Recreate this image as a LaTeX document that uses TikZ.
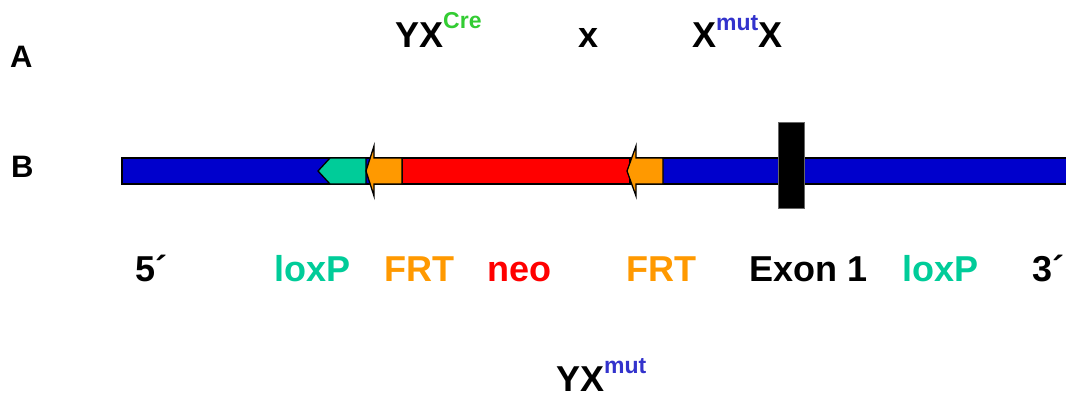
\documentclass[tikz,border=0pt]{standalone}
\usepackage{fontspec}
\setmainfont{Liberation Sans}
\definecolor{barblue}{RGB}{0,0,204}
\definecolor{loxgreen}{RGB}{0,204,153}
\definecolor{frtorange}{RGB}{255,153,0}
\definecolor{neored}{RGB}{255,0,0}
\definecolor{cregreen}{RGB}{51,204,51}
\definecolor{mutblue}{RGB}{51,51,204}
\newcommand{\raisedtag}[2]{\raisebox{#1}{\fontsize{23}{23}\selectfont #2}}
\begin{document}
\begin{tikzpicture}[x=1pt,y=-1pt,
  lbl/.style={anchor=base west,inner sep=0pt,font=\fontsize{36}{36}\selectfont\bfseries},
  panel/.style={anchor=base west,inner sep=0pt,font=\fontsize{31}{31}\selectfont\bfseries},
  part/.style={draw=black,line width=1.3pt,line join=miter}]
\useasboundingbox (0,0) rectangle (1066,392);

% panel letters
\node[panel] (pA) at (10,67) {A};
\node[panel] (pB) at (11,177) {B};

% cross
\node[lbl] (cre) at (395,47) {YX\raisedtag{19pt}{\color{cregreen}Cre}};
\node[lbl] (cross) at (578,47) {x};
\node[lbl] (mutx) at (692,47) {X\raisedtag{17pt}{\color{mutblue}mut}X};

% offspring
\node[lbl] (off) at (556,391) {YX\raisedtag{18pt}{\color{mutblue}mut}};

% allele
\draw[part,fill=barblue] (122,158) rectangle (1080,184);
\draw[part,fill=neored] (402,158) rectangle (630,184);
% loxP
\draw[part,fill=loxgreen] (318,171) -- (330,158) -- (366,158) -- (366,184) -- (330,184) -- cycle;
% FRT left
\draw[part,fill=frtorange] (366,171) -- (374,146) -- (374,158) -- (402,158) -- (402,184) -- (374,184) -- (374,196) -- cycle;
% FRT right
\draw[part,fill=frtorange] (627,171) -- (636,146) -- (636,158) -- (663,158) -- (663,184) -- (636,184) -- (636,196) -- cycle;
% exon 1
\draw[draw=black!60,line width=0.6pt,fill=black] (778,122) rectangle (804,208);

% labels
\node[lbl] (five) at (135,281) {5´};
\node[lbl,text=loxgreen] (lox1) at (274,281) {loxP};
\node[lbl,text=frtorange] (frt1) at (384,281) {FRT};
\node[lbl,text=neored] (neo) at (487,281) {neo};
\node[lbl,text=frtorange] (frt2) at (626,281) {FRT};
\node[lbl] (exon) at (749,281) {Exon 1};
\node[lbl,text=loxgreen] (lox2) at (902,281) {loxP};
\node[lbl] (three) at (1032,281) {3´};
\end{tikzpicture}
\end{document}
